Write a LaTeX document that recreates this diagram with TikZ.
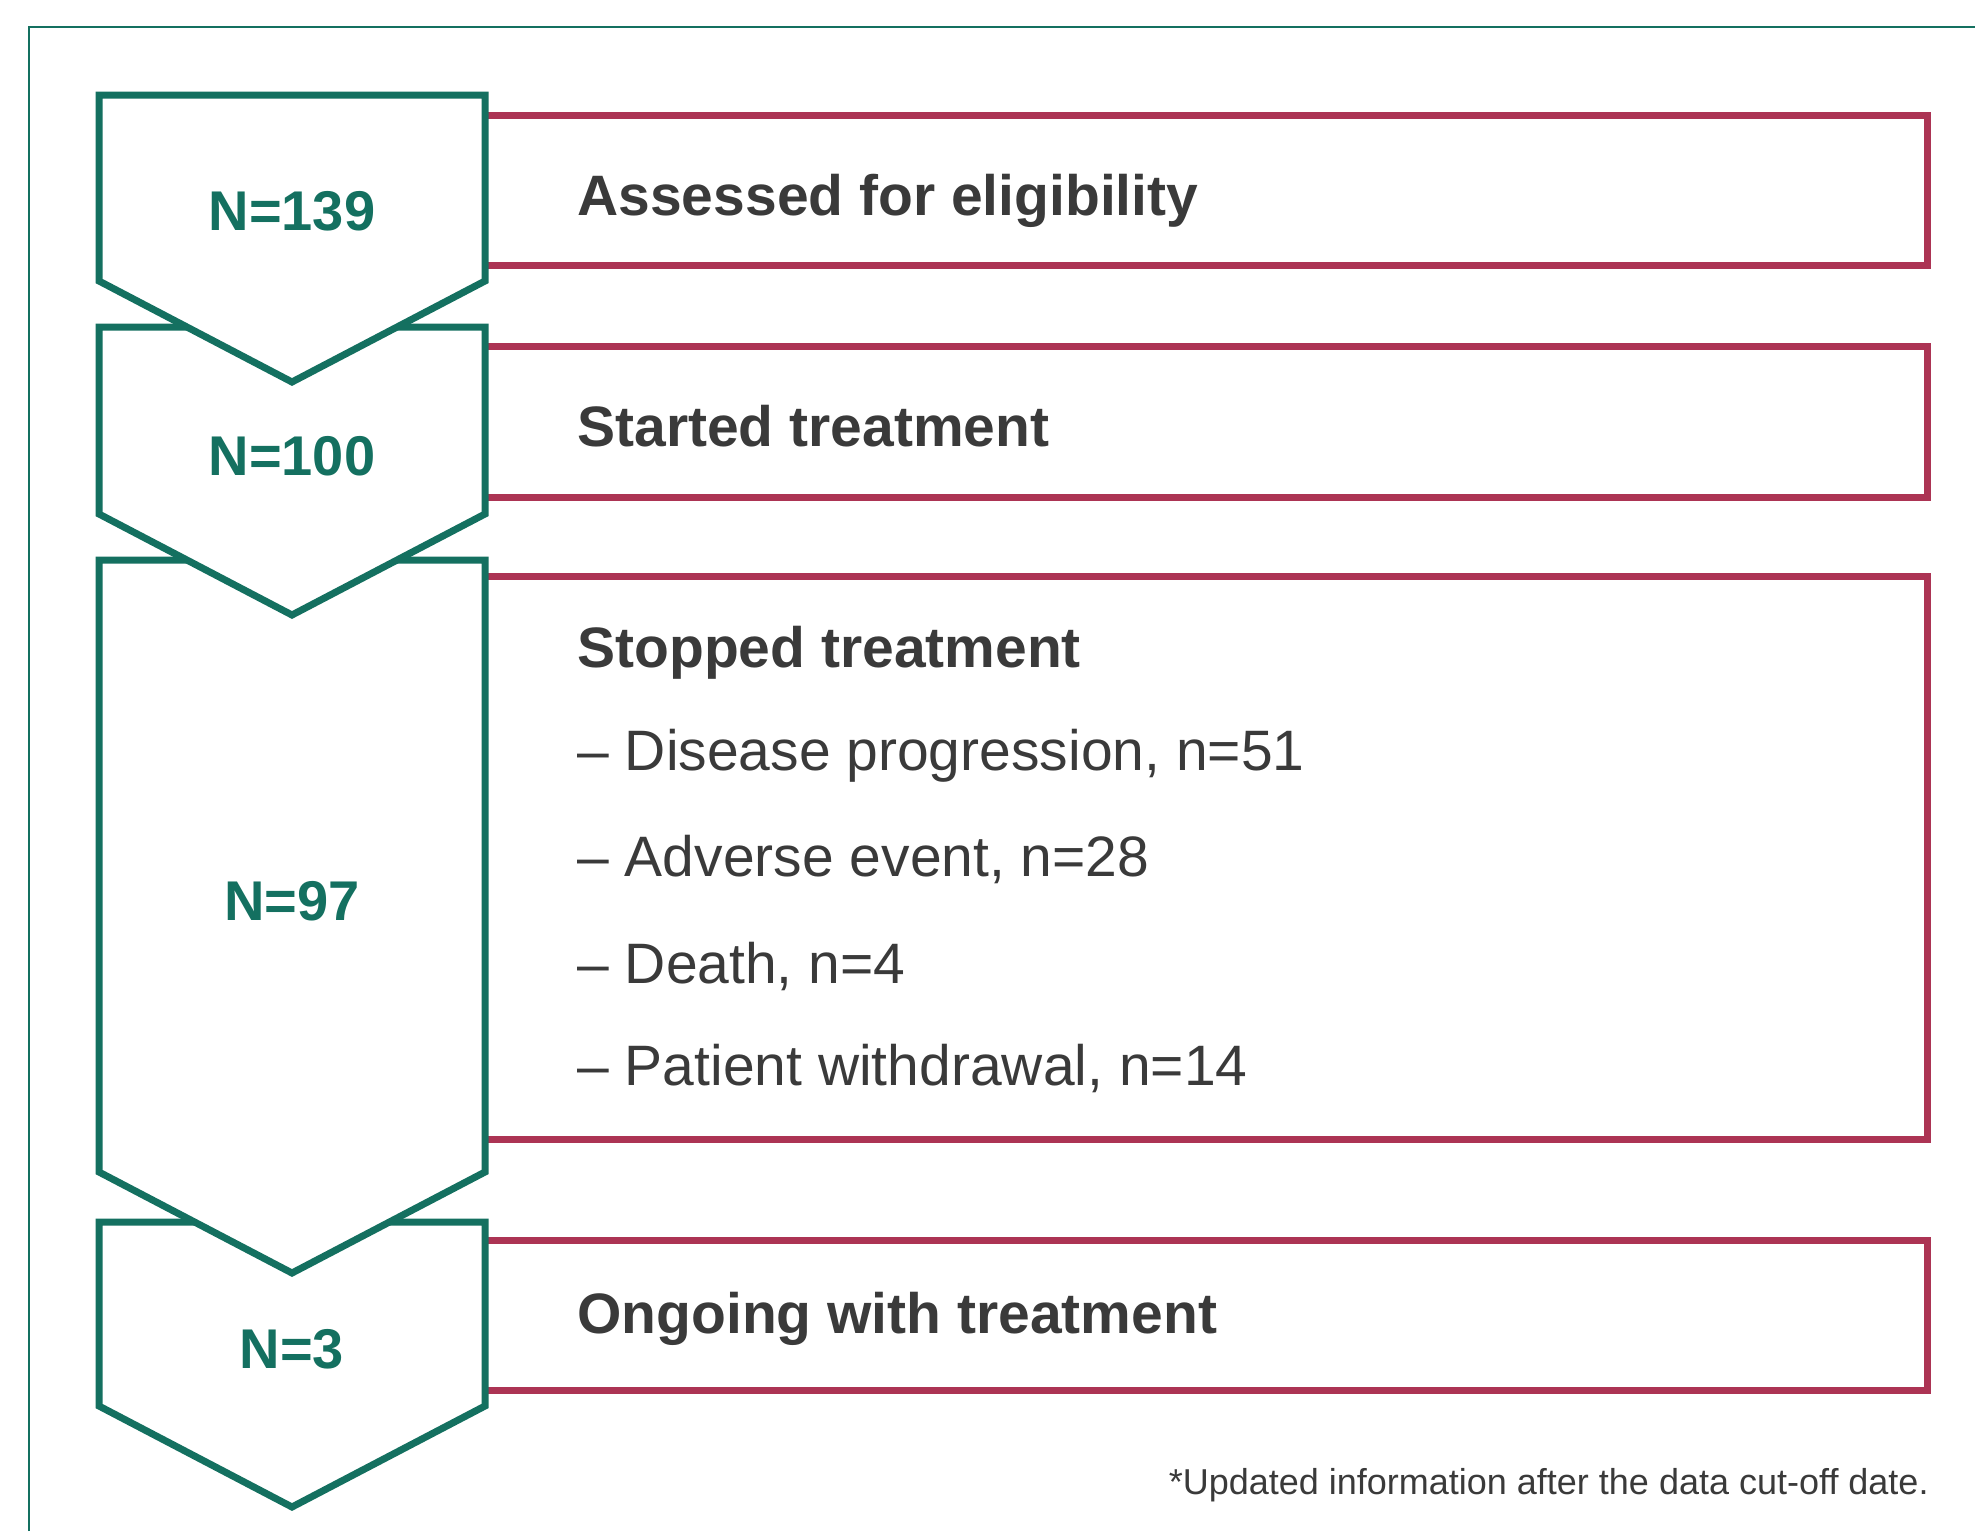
\documentclass[tikz,border=0pt]{standalone}
\usepackage{fontspec}
\setmainfont{Liberation Sans}
\usepackage{tikz}
\tikzset{
  frameln/.style={line width=1pt, flowgreen},
  chevron/.style={draw=flowgreen, fill=white, line width=3.5pt, line join=miter},
  stagebox/.style={draw=flowred, line width=3.5pt, line join=miter},
  countlbl/.style={inner sep=0pt, anchor=base, text=flowgreen,
    font=\bfseries\fontsize{28}{34}\selectfont},
  steplbl/.style={inner sep=0pt, anchor=base west, text=flowtext,
    font=\bfseries\fontsize{28.5}{34}\selectfont},
  reasonlbl/.style={inner sep=0pt, anchor=base west, text=flowtext,
    font=\fontsize{28.5}{34}\selectfont},
}
\definecolor{flowgreen}{RGB}{20,112,96}
\definecolor{flowred}{RGB}{172,52,84}
\definecolor{flowtext}{RGB}{58,58,58}

\begin{document}
\begin{tikzpicture}[x=0.5pt, y=-0.5pt]
    \useasboundingbox (0,0) rectangle (1975,1531);
    \draw[frameln] (29,1531) |- (1975,27);

    \draw[stagebox] (485,115) -| (1927,265) -- (485,265);
    \draw[stagebox] (485,346) -| (1927,497) -- (485,497);
    \draw[stagebox] (485,576) -| (1927,1139) -- (485,1139);
    \draw[stagebox] (485,1240) -| (1927,1390) -- (485,1390);

    % lowest chevron first, so each tip lies over the next one
    \foreach \ytop/\yside in {1222/1406, 560/1172, 327/514, 95/281}
      \draw[chevron] (99,\ytop) -- (485,\ytop) -- (485,\yside)
        -- (292,\yside+101) -- (99,\yside) -- cycle;

    \node[countlbl] (n139) at (292,230) {N=139};
    \node[countlbl] (n100) at (292,475) {N=100};
    \node[countlbl] (n97) at (292,920) {N=97};
    \node[countlbl] (n3) at (292,1368) {N=3};

    \node[steplbl] (assessed) at (577,215) {Assessed for eligibility};
    \node[steplbl] (started) at (577,446) {Started treatment};
    \node[steplbl] (stopped) at (577,667) {Stopped treatment};
    \node[steplbl] (ongoing) at (577,1333) {Ongoing with treatment};

    \node[reasonlbl] (progression) at (577,770) {-- Disease progression, n=51};
    \node[reasonlbl] (adverse) at (577,876) {-- Adverse event, n=28};
    \node[reasonlbl] (death) at (577,983) {-- Death, n=4};
    \node[reasonlbl] (withdrawal) at (577,1085) {-- Patient withdrawal, n=14};

    \node[inner sep=0pt, anchor=base east, text=flowtext,
      font=\fontsize{18}{22}\selectfont] (cutoff) at (1929,1494)
      {*Updated information after the data cut-off date.};
  \end{tikzpicture}
\end{document}
